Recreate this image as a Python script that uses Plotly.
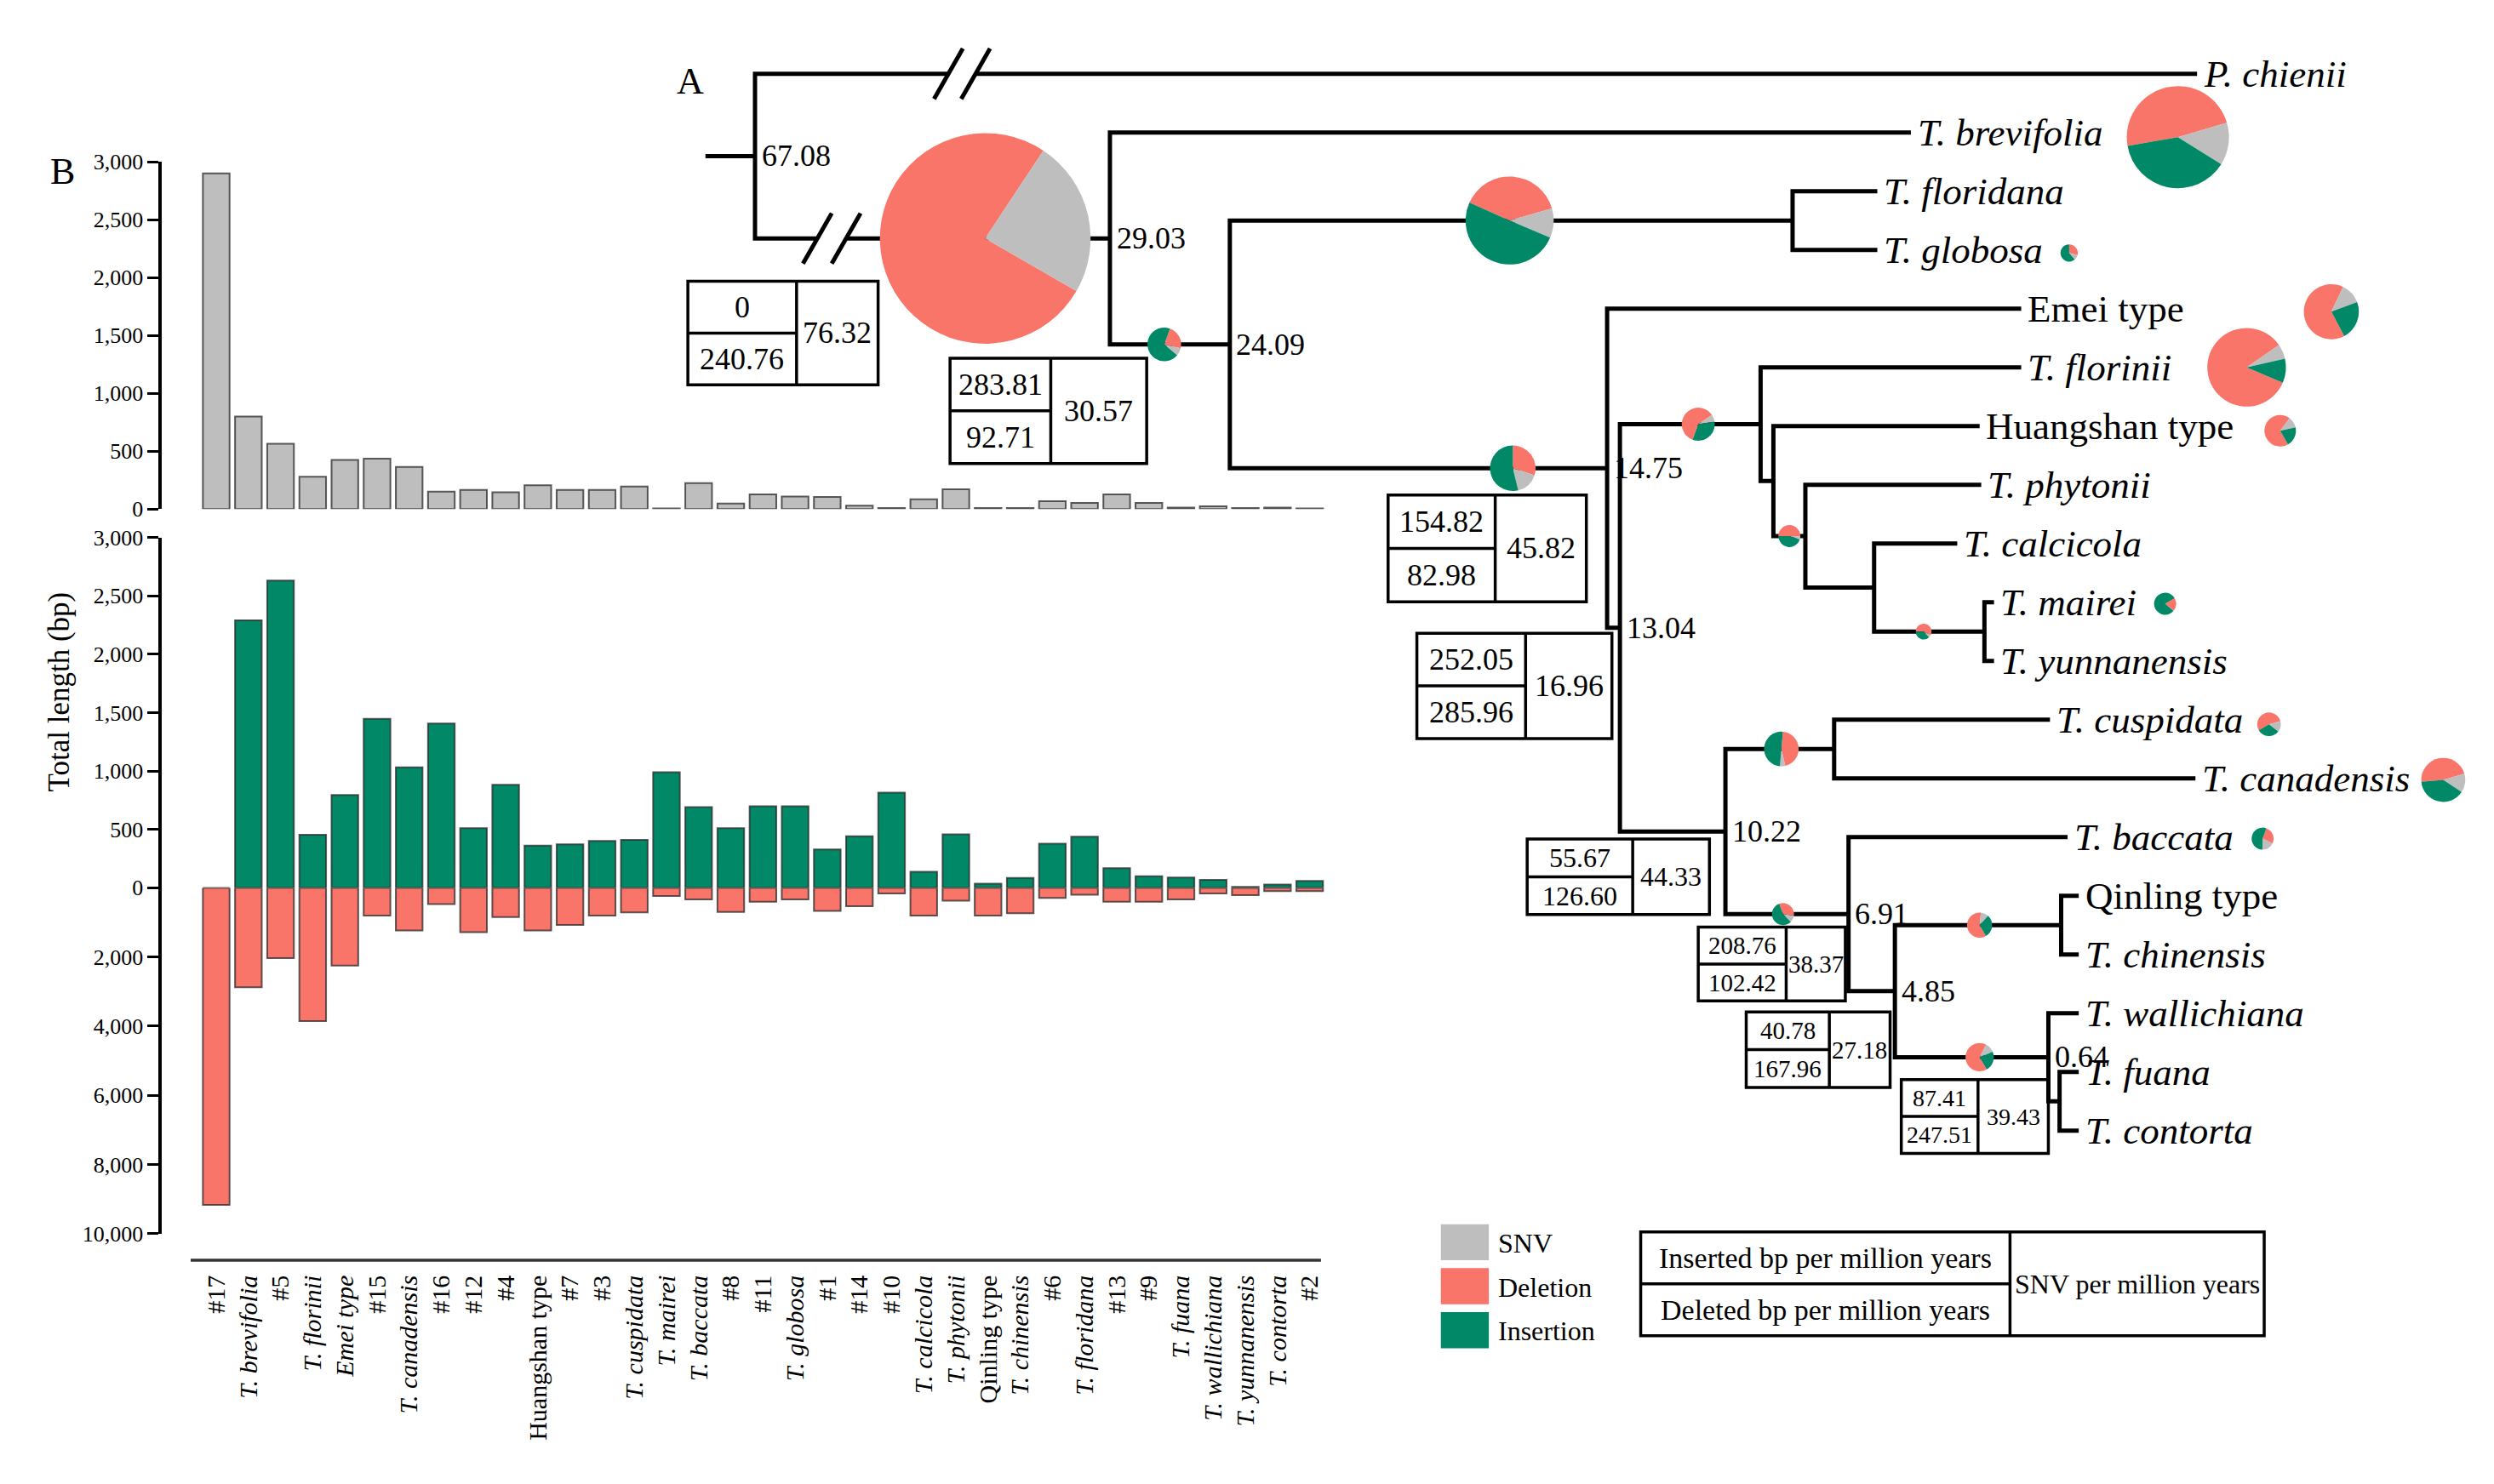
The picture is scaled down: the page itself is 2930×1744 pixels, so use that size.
import plotly.graph_objects as go

# ---------------- Panel B data ----------------
categories = ["#17", "T. brevifolia", "#5", "T. florinii", "Emei type", "#15", "T. canadensis", "#16", "#12", "#4",
              "Huangshan type", "#7", "#3", "T. cuspidata", "T. mairei", "T. baccata", "#8", "#11", "T. globosa", "#1",
              "#14", "#10", "T. calcicola", "T. phytonii", "Qinling type", "T. chinensis", "#6", "T. floridana", "#13", "#9",
              "T. fuana", "T. wallichiana", "T. yunnanensis", "T. contorta", "#2"]
snv = [2900, 800, 565, 280, 425, 435, 363, 150, 165, 145,
       205, 165, 165, 194, 5, 225, 48, 126, 109, 105,
       29, 10, 85, 170, 10, 10, 68, 53, 126, 53,
       12, 24, 10, 12, 5]
insertion = [0, 2290, 2630, 454, 795, 1446, 1032, 1406, 510, 883,
             361, 373, 402, 410, 990, 691, 510, 699, 699, 329,
             442, 815, 137, 458, 36, 84, 378, 438, 169, 100,
             88, 68, 8, 28, 60]
deletion = [9170, 2878, 2035, 3855, 2249, 803, 1232, 469, 1285, 843,
            1232, 1071, 803, 710, 235, 335, 696, 402, 335, 669,
            535, 161, 803, 375, 803, 736, 295, 200, 402, 402,
            335, 161, 214, 94, 94]
snv_ticks = [0, 500, 1000, 1500, 2000, 2500, 3000]
ins_ticks = [0, 500, 1000, 1500, 2000, 2500, 3000]
del_ticks = [2000, 4000, 6000, 8000, 10000]

# ---------------- Panel A data ----------------
tips = ["P. chienii", "T. brevifolia", "T. floridana", "T. globosa", "Emei type", "T. florinii", "Huangshan type",
        "T. phytonii", "T. calcicola", "T. mairei", "T. yunnanensis", "T. cuspidata", "T. canadensis", "T. baccata",
        "Qinling type", "T. chinensis", "T. wallichiana", "T. fuana", "T. contorta"]
children = {
    "R": ["P. chienii", "N29"],
    "N29": ["T. brevifolia", "N24"],
    "N24": ["Nfg", "N14"],
    "Nfg": ["T. floridana", "T. globosa"],
    "N14": ["Emei type", "N13"],
    "N13": ["NA", "N10"],
    "NA": ["T. florinii", "NB"],
    "NB": ["Huangshan type", "NC"],
    "NC": ["T. phytonii", "ND"],
    "ND": ["T. calcicola", "NE"],
    "NE": ["T. mairei", "T. yunnanensis"],
    "N10": ["Ncc", "N6"],
    "Ncc": ["T. cuspidata", "T. canadensis"],
    "N6": ["T. baccata", "N4"],
    "N4": ["Nqc", "N064"],
    "Nqc": ["Qinling type", "T. chinensis"],
    "N064": ["T. wallichiana", "Nfc"],
    "Nfc": ["T. fuana", "T. contorta"],
}
node_ages = {"R": "67.08", "N29": "29.03", "N24": "24.09", "N14": "14.75", "N13": "13.04",
             "N10": "10.22", "N6": "6.91", "N4": "4.85", "N064": "0.64"}

box_inserted = [0, 283.81, 154.82, 252.05, 55.67, 208.76, 40.78, 87.41]
box_deleted = [240.76, 92.71, 82.98, 285.96, 126.60, 102.42, 167.96, 247.51]
box_snv = [76.32, 30.57, 45.82, 16.96, 44.33, 38.37, 27.18, 39.43]

# pies on internal branches (stem of node): taken from bar categories, or (deletion, snv, insertion)
branch_pie_from_bar = {"N29": "#17", "N24": "#16", "Nfg": "#5", "N14": "#15", "N6": "#11"}
branch_pie_values = {"NA": (60, 7, 33), "NC": (50, 5, 45), "NE": (58, 5, 37), "Ncc": (45, 5, 50),
                     "Nqc": (60, 10, 30), "N064": (66, 11, 23)}
tip_pies = ["T. brevifolia", "T. globosa", "Emei type", "T. florinii", "Huangshan type",
            "T. mairei", "T. cuspidata", "T. canadensis", "T. baccata"]

legend_items = ["SNV", "Deletion", "Insertion"]
legend_table = ["Inserted bp per million years", "Deleted bp per million years", "SNV per million years"]

# ---------------- layout / style constants ----------------
W, H = 2930, 1744
WD = 1560.0
HD = WD * H / W
FONT = "Liberation Serif"
C_SNV, C_DEL, C_INS = "#BEBEBE", "#FA7569", "#008867"
LW = 5

def px(x):
    return x / WD

def py(y):
    return 1 - y / HD

node_x = {"R": 468, "N29": 690, "N24": 765, "Nfg": 1117, "N14": 1001, "N13": 1009, "NA": 1097, "NB": 1105,
          "NC": 1125, "ND": 1168, "NE": 1237, "N10": 1075, "Ncc": 1143, "N6": 1152, "N4": 1181,
          "Nqc": 1285, "N064": 1277, "Nfc": 1284}
tip_end = {"P. chienii": 1370, "T. brevifolia": 1191, "T. floridana": 1170, "T. globosa": 1170,
           "Emei type": 1260, "T. florinii": 1260, "Huangshan type": 1234, "T. phytonii": 1235,
           "T. calcicola": 1220, "T. mairei": 1243, "T. yunnanensis": 1243, "T. cuspidata": 1278,
           "T. canadensis": 1369, "T. baccata": 1289, "Qinling type": 1296, "T. chinensis": 1296,
           "T. wallichiana": 1296, "T. fuana": 1296, "T. contorta": 1296}
LEAF_TOP, LEAF_STEP = 35, 37.36
ROOT_STUB = 437
gaps = {"P. chienii": (589, 606), "N29": (507, 525)}
SL_DX, SL_DY = 9, 16

branch_pie_geom = {"N29": (612, 67, 120), "N24": (724, 10.7, 20), "Nfg": (940, 28, 294), "N14": (942, 14.5, 0),
                   "NA": (1058, 10.5, 200), "NC": (1115, 7, 270), "NE": (1199, 5, 270), "Ncc": (1110, 11, 5),
                   "N6": (1111, 7, 340), "Nqc": (1234, 8, 150), "N064": (1234, 9, 150)}
tip_pie_geom = {"T. brevifolia": (1358, 3, 32.5, 260), "T. globosa": (1290, 2, 5.5, 0),
                "Emei type": (1454, 2, 17.5, 152), "T. florinii": (1401, 0, 25, 113),
                "Huangshan type": (1422, 3, 10, 150), "T. mairei": (1350, 1, 7, 60),
                "T. cuspidata": (1415, 3, 7.5, 240), "T. canadensis": (1524, 1, 14, 265),
                "T. baccata": (1411, 1, 7, 20)}
# boxes: x0, y0, x1, y1, x_divider, font size
box_geom = [(426, 167, 545, 233, 494, 36), (590, 216, 713, 283, 653, 36), (864, 303, 988, 371, 931, 36),
            (882, 391, 1004, 458, 950, 36), (951, 522, 1065, 570, 1017, 32), (1058, 578, 1150, 625, 1113, 29),
            (1088, 632, 1178, 680, 1140, 29), (1185, 675, 1277, 722, 1233, 28)]

# bar panel geometry (display units)
AX_X0, AX_X1 = 97, 825
TOP_Y0, TOP_Y1 = 91, 312
INS_Y0, ZERO_Y, DEL_Y1 = 330, 553, 773

ITALIC_AXIS = lambda n: n.startswith("T. ") or n == "Emei type"
ITALIC_TREE = lambda n: n.startswith("T. ") or n.startswith("P. ")

def fmt(n, italic):
    return "<i>" + n + "</i>" if italic(n) else n

# ---------------- tree geometry ----------------
def ypos(n):
    if n in tips:
        return LEAF_TOP + LEAF_STEP * tips.index(n)
    ch = children[n]
    return sum(ypos(c) for c in ch) / len(ch)

def xpos(n):
    return tip_end[n] if n in tips else node_x[n]

tx, ty = [], []

def seg(points):
    for (a, b) in points:
        tx.append(a)
        ty.append(b)
    tx.append(None)
    ty.append(None)

seg([(ROOT_STUB, ypos("R")), (node_x["R"], ypos("R"))])
for n, ch in children.items():
    nx = node_x[n]
    c1, c2 = ch
    y1, y2 = ypos(c1), ypos(c2)
    e1 = gaps[c1][0] if c1 in gaps else xpos(c1)
    e2 = gaps[c2][0] if c2 in gaps else xpos(c2)
    seg([(e1, y1), (nx, y1), (nx, y2), (e2, y2)])
    for c in ch:
        if c in gaps:
            g0, g1 = gaps[c]
            yc = ypos(c)
            seg([(g1, yc), (xpos(c), yc)])
            for gx in (g0, g1):
                seg([(gx - SL_DX, yc + SL_DY), (gx + SL_DX, yc - SL_DY)])

# ---------------- figure ----------------
fig = go.Figure()
bar_line = dict(color="rgba(40,40,40,0.75)", width=2)
fig.add_trace(go.Bar(x=categories, y=snv, marker=dict(color=C_SNV, line=bar_line), xaxis="x", yaxis="y", name="SNV"))
fig.add_trace(go.Bar(x=categories, y=insertion, marker=dict(color=C_INS, line=bar_line), xaxis="x2", yaxis="y2", name="Insertion"))
fig.add_trace(go.Bar(x=categories, y=deletion, marker=dict(color=C_DEL, line=bar_line), xaxis="x3", yaxis="y3", name="Deletion"))
fig.add_trace(go.Scatter(x=tx, y=ty, mode="lines", line=dict(color="black", width=LW),
                         xaxis="x4", yaxis="y4", hoverinfo="skip"))

def add_pie(vals, cx, cy, r, rot):
    fig.add_trace(go.Pie(values=list(vals), labels=["Deletion", "SNV", "Insertion"],
                         marker=dict(colors=[C_DEL, C_SNV, C_INS], line=dict(width=0)),
                         sort=False, direction="clockwise", rotation=rot, textinfo="none",
                         hoverinfo="label+value", showlegend=False,
                         domain=dict(x=[px(cx - r), px(cx + r)], y=[py(cy + r), py(cy - r)])))

for n, (cx, r, rot) in branch_pie_geom.items():
    if n in branch_pie_from_bar:
        k = categories.index(branch_pie_from_bar[n])
        vals = (deletion[k], snv[k], insertion[k])
    else:
        vals = branch_pie_values[n]
    add_pie(vals, cx, ypos(n), r, rot)

for t in tip_pies:
    cx, dy, r, rot = tip_pie_geom[t]
    k = categories.index(t)
    add_pie((deletion[k], snv[k], insertion[k]), cx, ypos(t) + dy, r, rot)

ann = []
shapes = []

def text(x, y, s, size, xanchor="left", angle=0):
    ann.append(dict(x=x, y=y, xref="x4", yref="y4", text=s, showarrow=False, xanchor=xanchor,
                    yanchor="middle", textangle=angle, font=dict(family=FONT, size=size, color="black")))

# tip labels and node ages
for t in tips:
    text(tip_end[t] + 3, ypos(t), fmt(t, ITALIC_TREE), 45)
for n, a in node_ages.items():
    text(node_x[n] + 3, ypos(n), a, 36)

# rate boxes
for i, (x0, y0, x1, y1, xd, fs) in enumerate(box_geom):
    ym = (y0 + y1) / 2
    shapes.append(dict(type="rect", xref="x4", yref="y4", x0=x0, y0=y0, x1=x1, y1=y1,
                       line=dict(color="black", width=3.5), layer="above"))
    shapes.append(dict(type="line", xref="x4", yref="y4", x0=xd, y0=y0, x1=xd, y1=y1,
                       line=dict(color="black", width=3.5), layer="above"))
    shapes.append(dict(type="line", xref="x4", yref="y4", x0=x0, y0=ym, x1=xd, y1=ym,
                       line=dict(color="black", width=3.5), layer="above"))
    lab_ins = "0" if box_inserted[i] == 0 else f"{box_inserted[i]:.2f}"
    text((x0 + xd) / 2, (y0 + ym) / 2, lab_ins, fs, "center")
    text((x0 + xd) / 2, (ym + y1) / 2, f"{box_deleted[i]:.2f}", fs, "center")
    text((xd + x1) / 2, ym, f"{box_snv[i]:.2f}", fs, "center")

# panel letters, y title
text(418, 40, "A", 44)
text(26, 97, "B", 44)
text(33, 428, "Total length (bp)", 35, "center", -90)

# x-axis baseline under bars
shapes.append(dict(type="line", xref="x4", yref="y4", x0=115, y0=790, x1=822, y1=790,
                   line=dict(color="#333333", width=3.5)))

# legend
leg_colors = [C_SNV, C_DEL, C_INS]
for i, name in enumerate(legend_items):
    y0 = 767 + 28 * i
    shapes.append(dict(type="rect", xref="x4", yref="y4", x0=897, y0=y0, x1=927, y1=y0 + 23,
                       fillcolor=leg_colors[i], line=dict(width=0)))
    text(932, y0 + 12, name, 32)
# legend table
tx0, ty0, tx1, ty1, txd = 1022, 772, 1412, 838, 1253
tym = (ty0 + ty1) / 2
shapes.append(dict(type="rect", xref="x4", yref="y4", x0=tx0, y0=ty0, x1=tx1, y1=ty1, line=dict(color="black", width=3.5)))
shapes.append(dict(type="line", xref="x4", yref="y4", x0=txd, y0=ty0, x1=txd, y1=ty1, line=dict(color="black", width=3.5)))
shapes.append(dict(type="line", xref="x4", yref="y4", x0=tx0, y0=tym, x1=txd, y1=tym, line=dict(color="black", width=3.5)))
text((tx0 + txd) / 2, (ty0 + tym) / 2, legend_table[0], 34, "center")
text((tx0 + txd) / 2, (tym + ty1) / 2, legend_table[1], 34, "center")
text((txd + tx1) / 2, tym, legend_table[2], 32, "center")

xrange = [-1.69, 34.5]
yax_common = dict(showline=True, linecolor="black", linewidth=3.5, ticks="outside", ticklen=13, tickwidth=3,
                  tickcolor="black", showgrid=False, zeroline=False, tickformat=",d",
                  tickfont=dict(family=FONT, size=26, color="black"), fixedrange=True)
xax_hidden = dict(type="category", range=xrange, showline=False, showgrid=False, zeroline=False,
                  showticklabels=False, ticks="", fixedrange=True)

fig.update_layout(
    width=W, height=H, margin=dict(l=0, r=0, t=0, b=0),
    paper_bgcolor="white", plot_bgcolor="rgba(0,0,0,0)", showlegend=False, bargap=0.17,
    xaxis=dict(domain=[px(AX_X0), px(AX_X1)], anchor="y", **xax_hidden),
    yaxis=dict(domain=[py(TOP_Y1), py(TOP_Y0)], anchor="x", range=[0, 3000], tickvals=snv_ticks, **yax_common),
    xaxis2=dict(domain=[px(AX_X0), px(AX_X1)], anchor="y2", **xax_hidden),
    yaxis2=dict(domain=[py(ZERO_Y), py(INS_Y0)], anchor="x2", range=[0, 3000], tickvals=ins_ticks, **yax_common),
    xaxis3=dict(domain=[px(AX_X0), px(AX_X1)], anchor="y3", type="category", range=xrange, showline=False,
                showgrid=False, zeroline=False, ticks="", tickangle=-90, tickvals=categories,
                ticktext=[fmt(c, ITALIC_AXIS) for c in categories], ticklabelstandoff=42,
                tickfont=dict(family=FONT, size=30, color="black"), fixedrange=True),
    yaxis3=dict(domain=[py(DEL_Y1), py(ZERO_Y)], anchor="x3", range=[10000, 0], tickvals=del_ticks, **yax_common),
    xaxis4=dict(domain=[0, 1], range=[0, WD], visible=False, anchor="y4", fixedrange=True),
    yaxis4=dict(domain=[0, 1], range=[HD, 0], visible=False, anchor="x4", fixedrange=True),
    annotations=ann, shapes=shapes,
)

fig.write_html("out.html")
